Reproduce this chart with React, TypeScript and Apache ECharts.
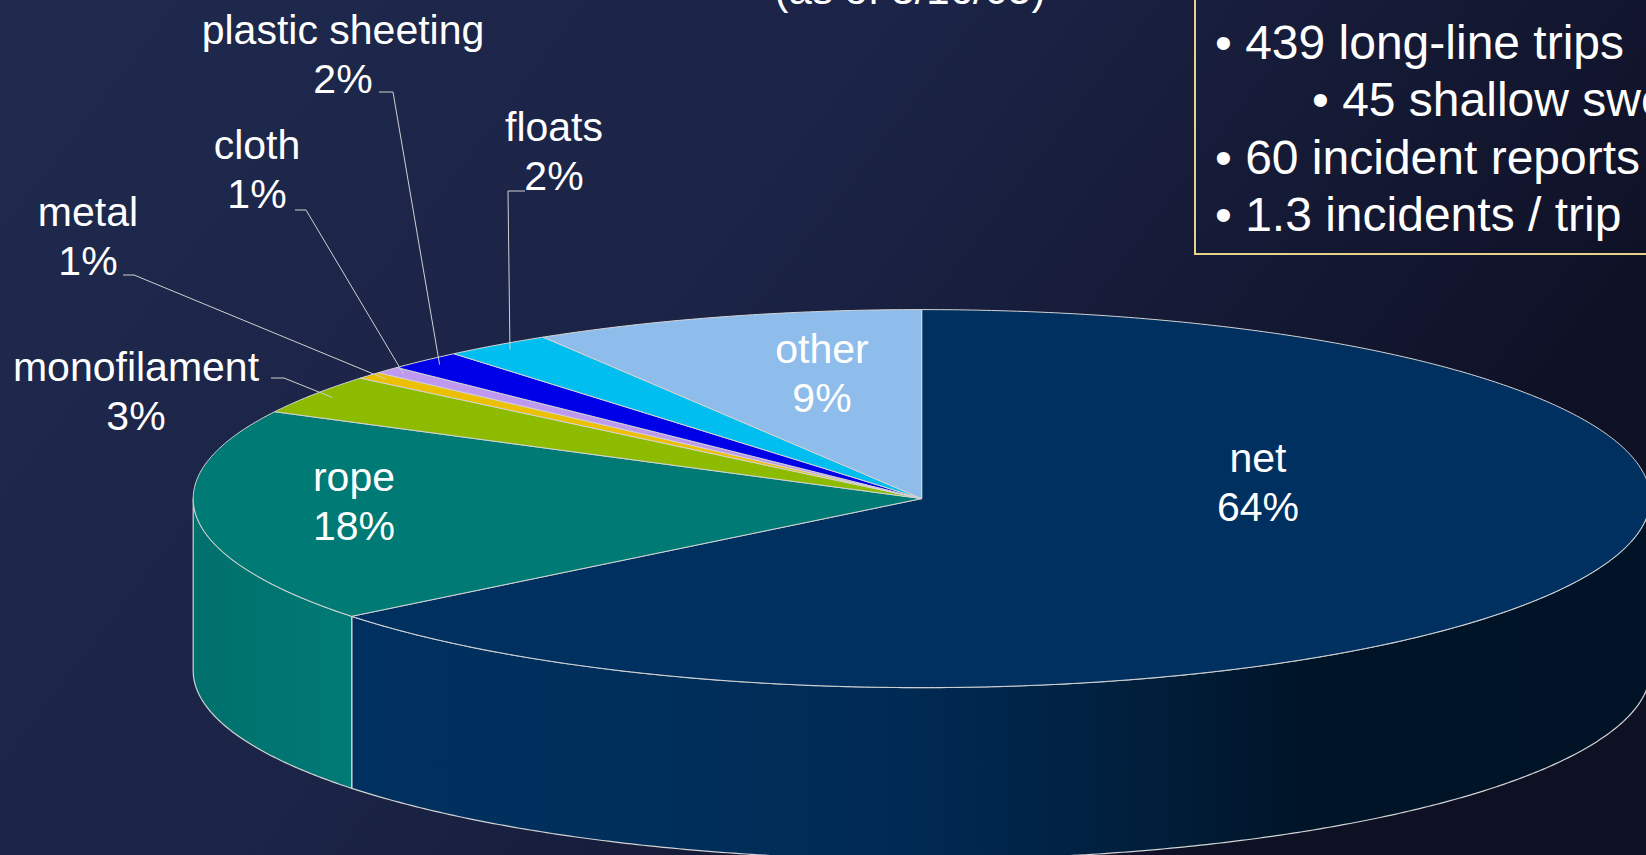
import React, { useEffect, useRef } from 'react';
import * as echarts from 'echarts';

// ---------- data ----------
const CATEGORIES = ['net', 'rope', 'monofilament', 'metal', 'cloth', 'plastic sheeting', 'floats', 'other'];
const SHARES = [64.3, 18.3, 3.4, 0.6, 0.6, 1.7, 2.4, 8.7];
const TITLE_TEXT = '(as of 3/16/05)';
const FACT_LINES = ['• 439 long-line trips', '• 45 shallow swordfish', '• 60 incident reports', '• 1.3 incidents / trip'];
const FACT_INDENT = [0, 1, 0, 0];

// ---------- styles / layout ----------
const SLICE_COLORS = ['#00305f', '#007a75', '#8dbb00', '#ecc000', '#bf98f0', '#0000e8', '#00bff0', '#8ebdeb'];
const CX = 921.7;
const CY = 498.6;
const RX = 728.5;
const RY = 189;
const DEPTH = 172;
const EDGE = '#d4d4d4';
const FONT = '"Liberation Sans", Arial, Helvetica, sans-serif';
const LABEL_POS: [number, number][] = [
  [1258, 482.5], [354, 501.5], [136, 391.5], [88, 236], [257, 169.5], [343, 54], [554, 151.5], [822, 373],
];
const LEADERS: ([number, number][] | null)[] = [
  null, null,
  [[271, 378], [284, 378]],
  [[123, 275], [134, 275]],
  [[295, 210], [306, 210]],
  [[379, 92], [393, 92]],
  [[525, 191], [508, 191]],
  null,
];
const FACT_X = [1215, 1312];
const FACT_Y = [42.5, 99, 157, 214];

const TOTAL = SHARES.reduce((a, b) => a + b, 0);
const STARTS: number[] = [];
{
  let acc = 0;
  SHARES.forEach((v) => { STARTS.push(acc); acc += v; });
}

function angleAt(p: number) {
  return ((90 - (360 * p) / TOTAL) * Math.PI) / 180;
}
function pt(theta: number, k = 1, dy = 0): [number, number] {
  return [CX + k * RX * Math.cos(theta), CY - k * RY * Math.sin(theta) + dy];
}
function shade(hex: string, f: number) {
  const n = parseInt(hex.slice(1), 16);
  const r = Math.min(255, Math.round(((n >> 16) & 255) * f));
  const g = Math.min(255, Math.round(((n >> 8) & 255) * f));
  const b = Math.min(255, Math.round((n & 255) * f));
  return `rgb(${r},${g},${b})`;
}
function wallFill(color: string) {
  const stops: [number, number][] = [
    [0, 0.92], [0.111, 1.0], [0.3, 0.97], [0.485, 0.88], [0.657, 0.62], [0.76, 0.42], [1, 0.4],
  ];
  return {
    type: 'linear', x: CX - RX, y: 0, x2: CX + RX, y2: 0, global: true,
    colorStops: stops.map(([o, f]) => ({ offset: o, color: shade(color, f) })),
  };
}

function renderSlice(params: any, api: any) {
  const i = params.dataIndex;
  const v = api.value(0);
  const a0 = angleAt(STARTS[i]);
  const a1 = angleAt(STARTS[i] + v);
  const children: any[] = [];
  // side wall (front half only)
  const hi = Math.min(a0, 0);
  const lo = Math.max(a1, -Math.PI);
  if (hi > lo) {
    const m = Math.max(2, Math.ceil((hi - lo) / (Math.PI / 360)));
    const upper: [number, number][] = [];
    const lower: [number, number][] = [];
    for (let k = 0; k <= m; k++) {
      const t = hi + ((lo - hi) * k) / m;
      upper.push(pt(t));
      lower.push(pt(t, 1, DEPTH));
    }
    children.push({
      type: 'polygon',
      shape: { points: upper.concat(lower.reverse()) },
      style: { fill: wallFill(SLICE_COLORS[i]), stroke: EDGE, lineWidth: 1.2 },
    });
  }
  // top face
  const n = Math.max(2, Math.ceil((a0 - a1) / (Math.PI / 360)));
  const top: [number, number][] = [[CX, CY]];
  for (let k = 0; k <= n; k++) top.push(pt(a0 + ((a1 - a0) * k) / n));
  children.push({
    type: 'polygon',
    shape: { points: top },
    style: { fill: SLICE_COLORS[i], stroke: EDGE, lineWidth: 1 },
  });
  return { type: 'group', children };
}

function renderLabel(params: any, api: any) {
  const i = params.dataIndex;
  const v = api.value(0);
  const mid = angleAt(STARTS[i] + v / 2);
  const children: any[] = [];
  const lead = LEADERS[i];
  if (lead) {
    children.push({
      type: 'polyline',
      shape: { points: [lead[0], lead[1], pt(mid, 0.97)] },
      style: { stroke: '#d0d0d0', lineWidth: 1, fill: null },
    });
  }
  const [x, y] = LABEL_POS[i];
  children.push({
    type: 'text',
    style: {
      text: `${CATEGORIES[i]}\n${Math.round(v)}%`,
      x, y,
      fill: '#ffffff',
      fontSize: 41,
      fontFamily: FONT,
      lineHeight: 49,
      align: 'center',
      verticalAlign: 'middle',
    },
  });
  return { type: 'group', children };
}

export default function App() {
  const ref = useRef<HTMLDivElement>(null);
  useEffect(() => {
    if (!ref.current) return;
    document.body.style.margin = '0';
    document.body.style.overflow = 'hidden';
    const chart = echarts.init(ref.current, null, { renderer: 'svg', width: 1646, height: 855 });
    const data = SHARES.map((v, i) => ({ name: CATEGORIES[i], value: v }));
    const graphicEls: any[] = [
      {
        type: 'text',
        x: 910, y: -11,
        silent: true,
        style: { text: TITLE_TEXT, fill: '#ffffff', fontSize: 42, fontFamily: FONT, align: 'center', verticalAlign: 'middle' },
      },
      {
        type: 'rect',
        shape: { x: 1195, y: -20, width: 600, height: 274 },
        silent: true,
        style: { fill: 'none', stroke: '#e6d28a', lineWidth: 2 },
      },
    ];
    FACT_LINES.forEach((t, k) => {
      graphicEls.push({
        type: 'text',
        x: FACT_X[FACT_INDENT[k]], y: FACT_Y[k],
        silent: true,
        style: { text: t, fill: '#ffffff', fontSize: 48, fontFamily: FONT, align: 'left', verticalAlign: 'middle' },
      });
    });
    chart.setOption({
      animation: false,
      backgroundColor: {
        type: 'linear', x: 0, y: 0, x2: 1, y2: 0.4,
        colorStops: [
          { offset: 0, color: '#1f2a4e' },
          { offset: 0.5, color: '#1b2346' },
          { offset: 1, color: '#0e1024' },
        ],
      },
      tooltip: { show: false },
      series: [
        { type: 'custom', name: 'pie3d', coordinateSystem: 'none', renderItem: renderSlice, data, z: 1, silent: true },
        { type: 'custom', name: 'labels', coordinateSystem: 'none', renderItem: renderLabel, data, z: 5, silent: true },
      ],
      graphic: { elements: graphicEls },
    });
    return () => chart.dispose();
  }, []);
  return (
    <div style={{ position: 'fixed', left: 0, top: 0, width: 1646, height: 855, margin: 0, padding: 0 }}>
      <div ref={ref} style={{ width: 1646, height: 855 }} />
    </div>
  );
}
